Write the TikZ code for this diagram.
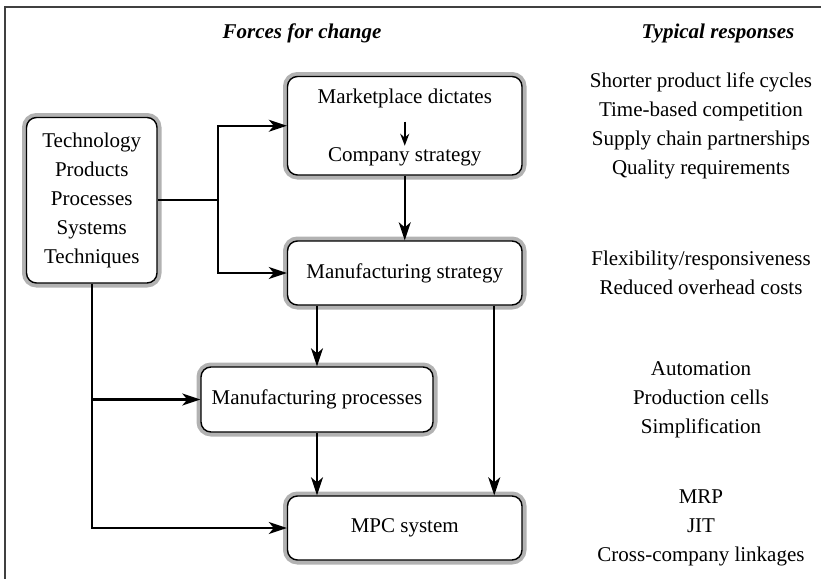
\documentclass[tikz,border=0pt]{standalone}
\usepackage{fontspec}
\setmainfont{Liberation Serif}
\usetikzlibrary{arrows.meta}

\begin{document}
\begin{tikzpicture}[x=0.5pt,y=-0.5pt,
		every node/.style={font=\fontsize{10.5}{14.5}\selectfont, align=center},
		head/.style={font=\fontsize{10.5}{14.5}\selectfont\bfseries\itshape},
		box/.style={draw=black, line width=0.7pt, fill=white, rounded corners=5pt, inner sep=0pt,
			preaction={draw=gray!60, line width=4.5pt}},
		conn/.style={line width=1.1pt, -{Stealth[length=9pt,width=6pt,inset=2.5pt]}}]
		\useasboundingbox (0,0) rectangle (821,579);
		\draw[line width=0.6pt, black!75] (821,7) -- (5,7) -- (5,579);
		\node[head] (forces) at (302,33) {Forces for change};
		\node[head] (typical) at (718,33) {Typical responses};
		% boxes
		\node[box, minimum width=65.25pt, minimum height=82.75pt] (tech) at (91.75,200.25)
			{Technology\\Products\\Processes\\Systems\\Techniques};
		\node[box, minimum width=117.25pt, minimum height=49.25pt] (market) at (404.75,125.75) {};
		\node (dict) at (404.75,98) {Marketplace dictates};
		\node (cstrat) at (404.75,157) {Company strategy};
		\node[box, minimum width=117.25pt, minimum height=32pt] (strat) at (404.75,273) {Manufacturing strategy};
		\node[box, minimum width=116pt, minimum height=32.5pt] (proc) at (317,399.5) {Manufacturing processes};
		\node[box, minimum width=117.25pt, minimum height=32pt] (mpc) at (404.75,528) {MPC system};
		% responses
		\node (resp1) at (701,126) {Shorter product life cycles\\Time-based competition\\Supply chain partnerships\\Quality requirements};
		\node (resp2) at (701,273) {Flexibility/responsiveness\\Reduced overhead costs};
		\node (resp3) at (701,400) {Automation\\Production cells\\Simplification};
		\node (resp4) at (701,528) {MRP\\JIT\\Cross-company linkages};
		% connectors
		\coordinate (split) at (218,200.25);
		\coordinate (tap) at (tech.south |- proc.west);
		\draw[line width=1.1pt] (tech.east) -- (split);
		\draw[conn] (split) |- (market.west);
		\draw[conn] (split) |- (strat.west);
		\draw[conn] (tech.south) |- (mpc.west);
		\draw[conn] (tap) -- (proc.west);
		\draw[line width=1pt, -{Stealth[length=6pt,width=4.5pt,inset=2pt]}, shorten <=3.5pt, shorten >=-2.5pt] (dict.south) -- (cstrat.north);
		\draw[conn] (market.south) -- (strat.north);
		\draw[conn] (strat.south -| proc.north) -- (proc.north);
		\draw[conn] (proc.south) -- (mpc.north -| proc.south);
		\draw[conn] ([xshift=44.75pt]strat.south) -- ([xshift=44.75pt]mpc.north);
	\end{tikzpicture}
\end{document}
